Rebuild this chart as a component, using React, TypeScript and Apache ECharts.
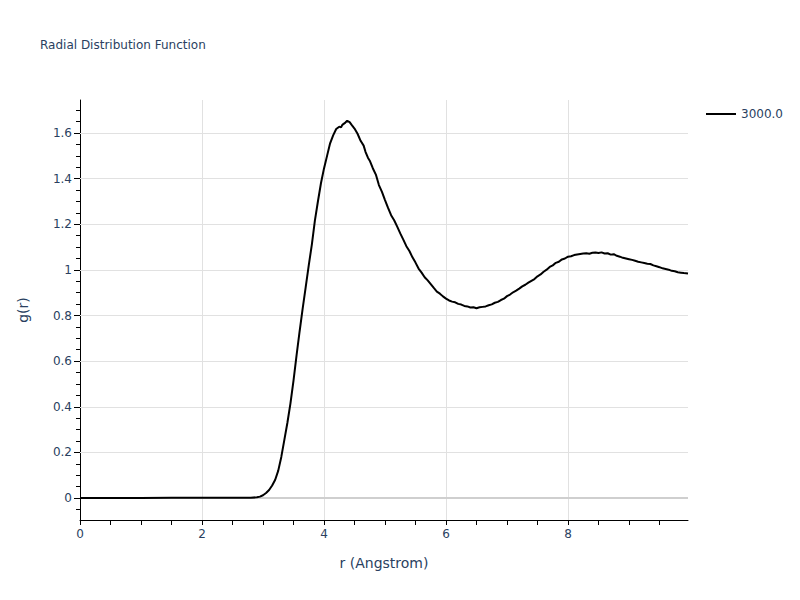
import { useEffect, useRef } from 'react';
import * as echarts from 'echarts';

// g(r), r in Angstrom
const rValues = [
  0, 0.5, 1.0, 1.5, 2.0, 2.5, 2.8, 2.9, 2.95, 3.0, 3.05, 3.1, 3.15, 3.2, 3.25, 3.3,
  3.35, 3.4, 3.45, 3.5, 3.55, 3.6, 3.65, 3.7, 3.75, 3.8, 3.85, 3.9, 3.95, 4.0,
  4.05, 4.1, 4.15, 4.2, 4.25, 4.28, 4.3, 4.35, 4.38, 4.42, 4.45, 4.5, 4.55, 4.6,
  4.65, 4.68, 4.72, 4.75, 4.8, 4.85, 4.9, 4.95, 5.0, 5.05, 5.1, 5.15, 5.2, 5.25,
  5.3, 5.35, 5.4, 5.45, 5.5, 5.55, 5.6, 5.65, 5.7, 5.75, 5.8, 5.85, 5.9, 5.95,
  6.0, 6.05, 6.1, 6.15, 6.2, 6.25, 6.3, 6.35, 6.4, 6.45, 6.5, 6.55, 6.6, 6.65,
  6.7, 6.75, 6.8, 6.85, 6.9, 6.95, 7.0, 7.05, 7.1, 7.15, 7.2, 7.25, 7.3, 7.35,
  7.4, 7.45, 7.5, 7.55, 7.6, 7.65, 7.7, 7.75, 7.8, 7.85, 7.9, 7.95, 8.0, 8.05,
  8.1, 8.15, 8.2, 8.25, 8.3, 8.35, 8.4, 8.45, 8.5, 8.55, 8.6, 8.65, 8.7, 8.75,
  8.8, 8.85, 8.9, 8.95, 9.0, 9.05, 9.1, 9.15, 9.2, 9.25, 9.3, 9.35, 9.4, 9.45,
  9.5, 9.55, 9.6, 9.65, 9.7, 9.75, 9.8, 9.85, 9.9, 9.967,
];
const gValues = [
  0, 0, 0, 0.001, 0.001, 0.001, 0.001, 0.003, 0.006, 0.012, 0.022, 0.035, 0.055, 0.08, 0.12, 0.18,
  0.255, 0.33, 0.415, 0.515, 0.625, 0.73, 0.83, 0.925, 1.02, 1.11, 1.215, 1.3, 1.38, 1.445,
  1.5, 1.555, 1.59, 1.618, 1.628, 1.625, 1.636, 1.646, 1.654, 1.648, 1.637, 1.62, 1.597, 1.566,
  1.545, 1.518, 1.492, 1.479, 1.446, 1.418, 1.372, 1.342, 1.306, 1.272, 1.24, 1.218, 1.19, 1.16,
  1.133, 1.104, 1.083, 1.055, 1.032, 1.006, 0.988, 0.968, 0.954, 0.938, 0.921, 0.905, 0.896, 0.884,
  0.874, 0.866, 0.861, 0.858, 0.851, 0.848, 0.842, 0.84, 0.835, 0.836, 0.832, 0.836, 0.838, 0.84,
  0.845, 0.849, 0.856, 0.86, 0.868, 0.874, 0.885, 0.892, 0.902, 0.909, 0.918, 0.928, 0.935, 0.944,
  0.952, 0.96, 0.972, 0.98, 0.992, 1.001, 1.013, 1.02, 1.031, 1.036, 1.046, 1.05, 1.058, 1.06,
  1.065, 1.068, 1.07, 1.072, 1.073, 1.071, 1.075, 1.076, 1.074, 1.077, 1.072, 1.073, 1.067, 1.069,
  1.062, 1.058, 1.053, 1.05, 1.047, 1.044, 1.04, 1.036, 1.033, 1.03, 1.027, 1.026, 1.02, 1.016,
  1.012, 1.007, 1.004, 1.001, 0.996, 0.994, 0.99, 0.988, 0.986, 0.984,
];

const seriesName = '3000.0';
const xLabelValues = [0, 2, 4, 6, 8];
const xGridValues = [2, 4, 6, 8];
const yLabelValues = [0, 0.2, 0.4, 0.6, 0.8, 1, 1.2, 1.4, 1.6];
const yGridValues = [0.2, 0.4, 0.6, 0.8, 1, 1.2, 1.4, 1.6];
const xMinorTicks = Array.from({ length: 20 }, (_, i) => i * 0.5);
const yMinorTicks = Array.from({ length: 36 }, (_, i) => Math.round((i - 1) * 5) / 100);

const FONT = '"DejaVu Sans", Verdana, sans-serif';
const TEXT = '#2a3f5f';
const X_MIN = 0;
const X_MAX = 9.967;
const Y_MIN = -0.0965;
const Y_MAX = 1.745;

export default function App() {
  const ref = useRef<HTMLDivElement | null>(null);

  useEffect(() => {
    if (!ref.current) return;
    const chart = echarts.init(ref.current, undefined, { renderer: 'svg' });

    chart.setOption({
      animation: false,
      backgroundColor: '#fff',
      textStyle: { fontFamily: FONT },
      title: {
        text: 'Radial Distribution Function',
        left: 40,
        top: 39,
        padding: 0,
        textStyle: { fontFamily: FONT, fontSize: 12, fontWeight: 'normal', color: TEXT },
      },
      legend: {
        data: [seriesName],
        left: 706,
        top: 108,
        padding: 0,
        icon: 'rect',
        itemWidth: 30,
        itemHeight: 2,
        textStyle: { fontFamily: FONT, fontSize: 12, color: TEXT },
      },
      grid: { left: 80, top: 100, width: 608, height: 420, containLabel: false },
      xAxis: {
        type: 'value',
        min: X_MIN,
        max: X_MAX,
        name: 'r (Angstrom)',
        nameLocation: 'middle',
        nameGap: 36,
        nameTextStyle: { fontFamily: FONT, fontSize: 14, color: TEXT },
        axisLine: { onZero: false, lineStyle: { color: '#000', width: 1 } },
        axisTick: { show: true, length: 5, customValues: xMinorTicks, lineStyle: { color: '#000' } },
        axisLabel: { customValues: xLabelValues, margin: 8, fontFamily: FONT, fontSize: 12, color: TEXT },
        splitLine: { show: false },
      },
      yAxis: [
        {
          type: 'value',
          min: Y_MIN,
          max: Y_MAX,
          name: 'g(r)',
          nameLocation: 'middle',
          nameGap: 50,
          nameTextStyle: { fontFamily: FONT, fontSize: 14, color: TEXT },
          axisLine: { show: true, onZero: false, lineStyle: { color: '#000', width: 1 } },
          axisTick: { show: true, length: 4, customValues: yMinorTicks, lineStyle: { color: '#000' } },
          axisLabel: {
            customValues: yLabelValues,
            margin: 8,
            fontFamily: FONT,
            fontSize: 12,
            color: TEXT,
            formatter: (v: number) => String(Math.round(v * 10) / 10),
          },
          splitLine: { show: false },
        },
        {
          type: 'value',
          min: Y_MIN,
          max: Y_MAX,
          position: 'left',
          axisLine: { show: false },
          axisTick: { show: true, length: 6, customValues: yLabelValues, lineStyle: { color: '#000' } },
          axisLabel: { show: false },
          splitLine: { show: false },
        },
      ],
      series: [
        {
          // grid + zero line, drawn under the data
          name: 'grid',
          type: 'line',
          data: [[X_MIN, 0]],
          symbol: 'none',
          lineStyle: { width: 0 },
          silent: true,
          z: 1,
          markLine: {
            silent: true,
            symbol: 'none',
            z: 1,
            label: { show: false },
            animation: false,
            data: [
              ...xGridValues.map(v => ({ xAxis: v, lineStyle: { color: '#e1e1e1', width: 1, type: 'solid' } })),
              ...yGridValues.map(v => ({ yAxis: v, lineStyle: { color: '#e1e1e1', width: 1, type: 'solid' } })),
              { yAxis: 0, lineStyle: { color: '#cfcfcf', width: 2, type: 'solid' } },
            ],
          },
        },
        {
          name: seriesName,
          type: 'line',
          data: rValues.map((r, i) => [r, gValues[i]]),
          symbol: 'none',
          smooth: false,
          lineStyle: { color: '#000', width: 2 },
          itemStyle: { color: '#000' },
          z: 10,
        },
      ],
    });

    return () => {
      chart.dispose();
    };
  }, []);

  return <div ref={ref} style={{ width: 800, height: 600, margin: -8 }} />;
}
